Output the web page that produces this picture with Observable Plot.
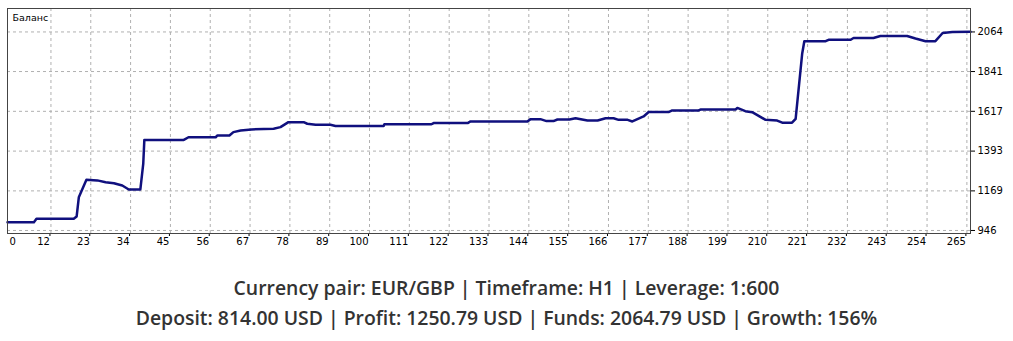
<!DOCTYPE html>
<html><head><meta charset="utf-8">
<script src="https://cdn.jsdelivr.net/npm/d3@7"></script>
<script src="https://cdn.jsdelivr.net/npm/@observablehq/plot@0.6"></script>
<style>
body{margin:0;background:#fff;}
#chart svg{display:block}
.cap{font-family:"Open Sans",sans-serif;font-weight:600;font-size:19.4px;color:#333;text-align:center;line-height:30px;margin-top:23px}
</style></head><body>
<div id="chart"></div>
<div class="cap" id="cap"></div>
<script>
const trades = [0,7.3,8.0,18.3,19.1,19.7,21.8,24.8,27.1,29.4,31.7,33.5,36.7,37.5,37.8,48.7,50.0,57.5,58.0,61.3,62.4,64.4,67.4,73.5,75.4,77.6,81.8,82.8,85.1,89.2,90.6,103.9,104.1,117.1,117.7,127.1,127.9,143.6,144.5,147.2,148.9,150.8,151.9,155.2,156.9,160.2,163.0,165.2,167.4,168.8,171.3,172.6,175.7,177.1,182.6,183.6,190.9,191.4,201.1,201.6,203.8,205.7,209.4,212.6,214.0,216.7,217.7,219.5,220.1,226.0,226.8,232.9,233.7,239.2,241.1,248.5,250.8,253.6,256.3,258.3,261.0,266];
const balance = [993,993,1012,1012,1025,1133,1231,1228,1218,1212,1199,1177,1177,1323,1456,1456,1471,1471,1481,1481,1500,1509,1515,1519,1528,1556,1556,1547,1541,1541,1534,1534,1544,1544,1551,1551,1560,1560,1573,1573,1562,1562,1571,1571,1578,1565,1565,1578,1578,1569,1569,1560,1588,1613,1613,1622,1622,1627,1627,1636,1618,1612,1569,1565,1553,1553,1575,1941,2012,2012,2020,2020,2030,2030,2041,2041,2027,2012,2012,2058,2063,2064.8];
const xTicks = [0,12,23,34,45,56,67,78,89,100,111,122,133,144,155,166,177,188,199,210,221,232,243,254,265];
const yTicks = [946,1169,1393,1617,1841,2064];
const title = "Баланс";
const captionLines = [
  "Currency pair: EUR/GBP | Timeframe: H1 | Leverage: 1:600",
  "Deposit: 814.00 USD | Profit: 1250.79 USD | Funds: 2064.79 USD | Growth: 156%"
];

const data = trades.map((t, i) => ({trade: t, balance: balance[i]}));
const grid = {stroke: "#b0b0b0", strokeOpacity: 1, strokeDasharray: "3,3"};
const chart = Plot.plot({
  width: 1013, height: 250,
  marginTop: 8, marginBottom: 17, marginLeft: 7, marginRight: 43,
  style: {fontFamily: "DejaVu Sans", fontSize: "10px", color: "#000", background: "#fff"},
  x: {domain: [0, 266]},
  y: {domain: [929, 2196]},
  marks: [
    Plot.gridX(xTicks, grid),
    Plot.gridY(yTicks, grid),
    Plot.axisX(xTicks.filter(d => d > 0), {anchor: "bottom", tickSize: 3, tickPadding: 1, textAnchor: "end", dx: -1, label: null, tickFormat: d => String(d)}),
    Plot.axisX([0], {anchor: "bottom", tickSize: 0, tickPadding: 4, textAnchor: "start", dx: 2, label: null, tickFormat: d => String(d)}),
    Plot.axisY(yTicks, {anchor: "right", tickSize: 4, tickPadding: 3, label: null, tickFormat: d => String(d)}),
    Plot.line(data, {x: "trade", y: "balance", stroke: "#10107e", strokeWidth: 2.5}),
    Plot.frame({stroke: "#444"}),
    Plot.text([title], {frameAnchor: "top-left", dx: 5, dy: 6, fontSize: 9.5, fill: "#000", textAnchor: "start"})
  ]
});
document.getElementById("chart").append(chart);
const cap = document.getElementById("cap");
captionLines.forEach(t => { const d = document.createElement("div"); d.textContent = t; cap.append(d); });
</script>
</body></html>
